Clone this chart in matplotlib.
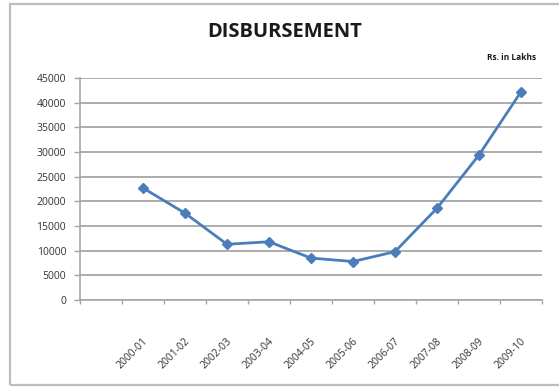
import matplotlib
matplotlib.use("Agg")
import matplotlib.pyplot as plt
from matplotlib.patches import Rectangle

# Annual disbursement, Rs. in Lakhs
years = ["2000-01", "2001-02", "2002-03", "2003-04", "2004-05",
         "2005-06", "2006-07", "2007-08", "2008-09", "2009-10"]
disbursement = [22700, 17600, 11300, 11800, 8500, 7800, 9800, 18600, 29400, 42200]
y_ticks = [0, 5000, 10000, 15000, 20000, 25000, 30000, 35000, 40000, 45000]

W, H = 559, 387
fig = plt.figure(figsize=(W / 100, H / 100), dpi=100)
fig.patch.set_facecolor("white")

# chart frame (runs off the right edge)
fig.add_artist(Rectangle((10 / W, 1 - 385 / H), 620 / W, 381 / H,
                         transform=fig.transFigure, fill=False,
                         edgecolor="#bdbdbd", linewidth=1.6))

ax = fig.add_axes([80 / W, 1 - 300 / H, 462 / W, 222 / H])
ax.set_facecolor("none")

n_slots = len(years) + 1
xs = [i + 1.5 for i in range(len(years))]
ax.plot(xs, disbursement, color="#4a7ebb", linewidth=2.0, marker="D",
        markersize=5, markerfacecolor="#4a7ebb", markeredgecolor="#4a7ebb",
        zorder=3, clip_on=False)

ax.set_xlim(0, n_slots)
ax.set_ylim(0, 45000)

ax.set_yticks(y_ticks)
ax.set_yticklabels([str(v) for v in y_ticks], fontsize=7.5, color="#333333",
                   family="Open Sans")
ax.yaxis.grid(True, color="#a6a6a6", linewidth=1.3)
ax.set_axisbelow(True)

# category boundary tick marks along the bottom
ax.set_xticks(range(n_slots + 1))
ax.set_xticklabels([])
ax.tick_params(axis="x", length=3, color="#a6a6a6", width=1)
ax.tick_params(axis="y", length=4, color="#a6a6a6", width=1, pad=6)

for x, lab in zip(xs, years):
    ax.text(x - 0.02, -7300, lab, rotation=45, ha="right", va="top",
            rotation_mode="anchor", fontsize=7.5, color="#333333",
            family="Open Sans")

for side in ["top", "right"]:
    ax.spines[side].set_visible(False)
for side in ["left", "bottom"]:
    ax.spines[side].set_color("#a6a6a6")
    ax.spines[side].set_linewidth(1.2)

fig.text(285 / W, 1 - 32 / H, "DISBURSEMENT", ha="center", va="center",
         fontsize=14.5, fontweight="bold", color="#1a1a1a", family="Open Sans")
fig.text(536 / W, 1 - 57 / H, "Rs. in Lakhs", ha="right", va="center",
         fontsize=6, fontweight="bold", color="#1a1a1a", family="Open Sans")

fig.savefig("out.png", dpi=100)
